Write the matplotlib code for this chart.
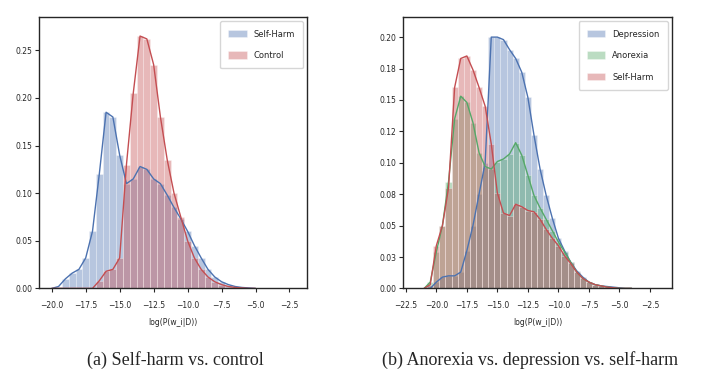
import numpy as np
import matplotlib
matplotlib.use("Agg")
import matplotlib.pyplot as plt
import seaborn as sns

sns.set_style("ticks")

# bin centres (width 0.5)
bins_a = np.arange(-20.0, -4.9, 0.5)
bins_b = np.arange(-21.0, -3.9, 0.5)

# (a) self-harm vs control, density per bin
selfharm_a = [0, 0.002, 0.01, 0.016, 0.02, 0.032, 0.06, 0.12, 0.185, 0.18, 0.14,
              0.11, 0.115, 0.128, 0.125, 0.115, 0.11, 0.098, 0.085, 0.073, 0.06,
              0.045, 0.032, 0.02, 0.012, 0.007, 0.004, 0.002, 0.001, 0.0005, 0]
control_a = [0, 0, 0, 0, 0, 0, 0, 0.008, 0.018, 0.02, 0.032, 0.13, 0.205, 0.265,
             0.262, 0.235, 0.18, 0.135, 0.1, 0.075, 0.05, 0.032, 0.02, 0.012,
             0.007, 0.004, 0.002, 0.001, 0.0005, 0, 0]

# (b) depression / anorexia / self-harm
depression_b = [0, 0, 0.005, 0.009, 0.01, 0.01, 0.013, 0.03, 0.05, 0.075, 0.1,
                0.2, 0.2, 0.198, 0.19, 0.183, 0.172, 0.152, 0.122, 0.095, 0.074,
                0.056, 0.04, 0.03, 0.021, 0.014, 0.009, 0.005, 0.003, 0.002,
                0.0015, 0.001, 0.0005, 0, 0]
anorexia_b = [0, 0.005, 0.029, 0.05, 0.085, 0.135, 0.153, 0.148, 0.132, 0.108,
              0.097, 0.095, 0.101, 0.103, 0.107, 0.116, 0.106, 0.09, 0.074,
              0.064, 0.055, 0.046, 0.037, 0.029, 0.021, 0.013, 0.008, 0.005,
              0.003, 0.002, 0.001, 0.0005, 0, 0, 0]
selfharm_b = [0, 0.003, 0.034, 0.05, 0.08, 0.16, 0.183, 0.185, 0.174, 0.16,
              0.145, 0.115, 0.076, 0.06, 0.058, 0.067, 0.065, 0.062, 0.061,
              0.055, 0.047, 0.04, 0.034, 0.026, 0.02, 0.013, 0.008, 0.005,
              0.003, 0.002, 0.001, 0.0005, 0, 0, 0]

ticks_a = [-20.0, -17.5, -15.0, -12.5, -10.0, -7.5, -5.0, -2.5]
ticks_b = [-22.5, -20.0, -17.5, -15.0, -12.5, -10.0, -7.5, -5.0, -2.5]
yticks_a = [0.0, 0.05, 0.10, 0.15, 0.20, 0.25]
yticks_b = [0.0, 0.025, 0.05, 0.075, 0.10, 0.125, 0.15, 0.175, 0.20]
ylabels_b = ["0.00", "0.03", "0.05", "0.08", "0.10", "0.12", "0.15", "0.18", "0.20"]

blue, red, green = "#4c72b0", "#c44e52", "#55a868"


def hist_kde(ax, x, y, color, label):
    ax.bar(x, y, width=0.5, color=color, alpha=0.4, edgecolor="white",
           linewidth=0.5, label=label)
    ax.plot(x, y, color=color, lw=1.0)


fig = plt.figure(figsize=(7.11, 3.78), dpi=100)
ax1 = fig.add_axes([0.055, 0.237, 0.377, 0.718])
ax2 = fig.add_axes([0.567, 0.237, 0.378, 0.718])

hist_kde(ax1, bins_a, selfharm_a, blue, "Self-Harm")
hist_kde(ax1, bins_a, control_a, red, "Control")

hist_kde(ax2, bins_b, depression_b, blue, "Depression")
hist_kde(ax2, bins_b, anorexia_b, green, "Anorexia")
hist_kde(ax2, bins_b, selfharm_b, red, "Self-Harm")

ax1.set_xlim(-20.93, -1.2)
ax1.set_ylim(0, 0.285)
ax1.set_xticks(ticks_a)
ax1.set_yticks(yticks_a)
ax1.set_yticklabels(["%.2f" % v for v in yticks_a])

ax2.set_xlim(-22.72, -0.7)
ax2.set_ylim(0, 0.216)
ax2.set_xticks(ticks_b)
ax2.set_yticks(yticks_b)
ax2.set_yticklabels(ylabels_b)

for ax in (ax1, ax2):
    ax.tick_params(labelsize=5.5, length=3, width=0.8, pad=2)
    ax.tick_params(axis="x", pad=6)
    ax.set_xlabel("log(P(w_i|D))", fontsize=5.5, labelpad=6)
    ax.set_ylabel("")
    for s in ax.spines.values():
        s.set_linewidth(1.0)
    ax.legend(loc="upper right", fontsize=6, frameon=True, handlelength=2.2,
              handleheight=1.0, borderpad=1.0, labelspacing=1.5)

fig.text(0.246, 0.048, "(a) Self-harm vs. control", ha="center", va="center",
         fontsize=13, family="Liberation Serif")
fig.text(0.745, 0.048, "(b) Anorexia vs. depression vs. self-harm", ha="center",
         va="center", fontsize=13, family="Liberation Serif")

plt.savefig("out.png", dpi=100)
